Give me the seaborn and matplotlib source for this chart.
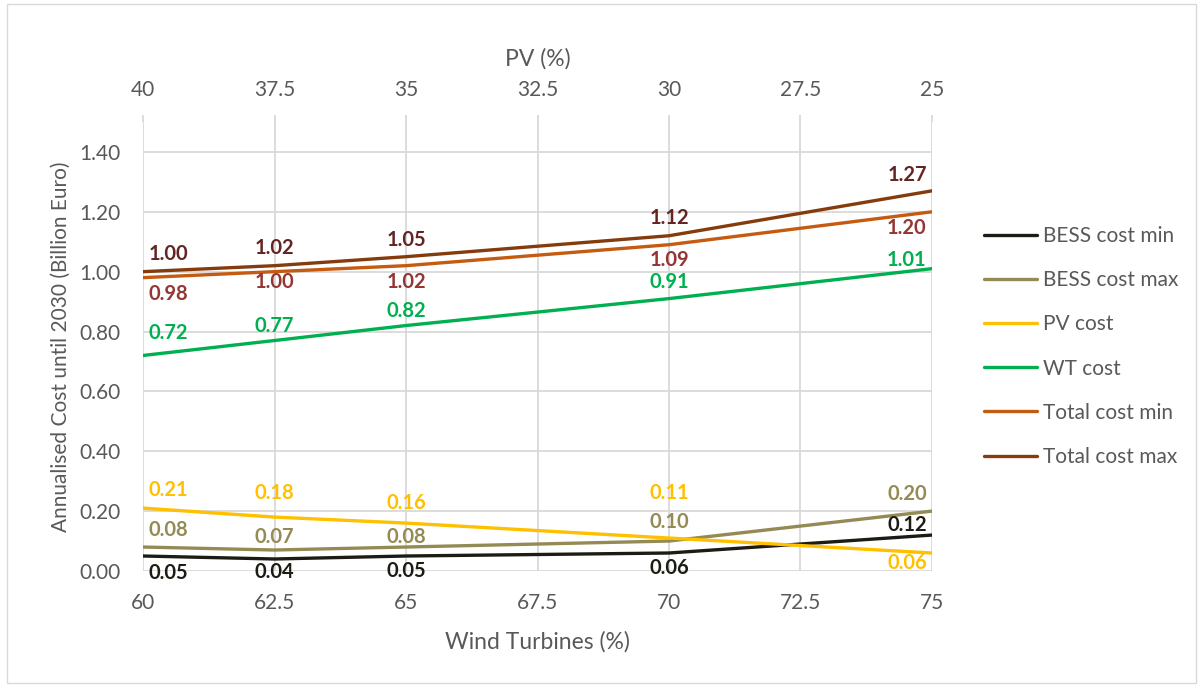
import matplotlib
matplotlib.use("Agg")
import matplotlib.pyplot as plt
import matplotlib.patches as patches
import seaborn as sns
import pandas as pd

# Scenario shares (PV share is 100 - wind share)
wind_share = [60, 62.5, 65, 70, 75]
wind_ticks = [60, 62.5, 65, 67.5, 70, 72.5, 75]
pv_ticks = [40, 37.5, 35, 32.5, 30, 27.5, 25]

bess_min = [0.05, 0.04, 0.05, 0.06, 0.12]
bess_max = [0.08, 0.07, 0.08, 0.10, 0.20]
pv_cost = [0.21, 0.18, 0.16, 0.11, 0.06]
wt_cost = [0.72, 0.77, 0.82, 0.91, 1.01]
total_min = [0.98, 1.00, 1.02, 1.09, 1.20]
total_max = [1.00, 1.02, 1.05, 1.12, 1.27]

series_names = ["BESS cost min", "BESS cost max", "PV cost", "WT cost",
                "Total cost min", "Total cost max"]
series_values = [bess_min, bess_max, pv_cost, wt_cost, total_min, total_max]
line_colors = ["#1c1c14", "#948a54", "#ffc000", "#00b050", "#c55a11", "#843c0c"]
label_colors = ["#1c1c14", "#948a54", "#ffc000", "#00b050", "#943634", "#632523"]

# vertical offset of each value label from its point, in pixels (up is positive)
label_dy = [
    [-17, -13, -15, -15, 10],
    [17, 13, 10, 19, 17],
    [18, 24, 20, 45, -10],
    [22, 15, 15, 17, 9],
    [-16, -10, -16, -15, -16],
    [18, 18, 17, 18, 16],
]
PX = 72 / 100  # pixels -> points

rows = []
for name, vals in zip(series_names, series_values):
    for x, v in zip(wind_share, vals):
        rows.append({"Wind": x, "Cost": v, "Series": name})
df = pd.DataFrame(rows)

sns.set_theme(style="white")
plt.rcParams["font.family"] = ["Lato", "DejaVu Sans"]

fig = plt.figure(figsize=(12.03, 6.87), dpi=100)
ax = fig.add_axes([0.1189, 0.1689, 0.6558, 0.6535])

sns.lineplot(data=df, x="Wind", y="Cost", hue="Series", hue_order=series_names,
             palette=dict(zip(series_names, line_colors)), linewidth=2.4,
             ax=ax, legend=True)

ax.set_xlim(60, 75)
ax.set_ylim(0, 1.5)
ax.set_xticks(wind_ticks)
ax.set_xticklabels([f"{t:g}" for t in wind_ticks])
ax.set_yticks([0, 0.2, 0.4, 0.6, 0.8, 1.0, 1.2, 1.4])
ax.set_yticklabels([f"{t:.2f}" for t in ax.get_yticks()])
ax.grid(True, color="#d9d9d9", linewidth=1.3)
ax.set_axisbelow(True)
for s in ax.spines.values():
    s.set_visible(False)
ax.tick_params(axis="both", colors="#595959", labelsize=15, length=0, pad=16)
ax.set_xlabel("Wind Turbines (%)", fontsize=16.5, color="#595959", labelpad=13)
ax.set_ylabel("Annualised Cost until 2030 (Billion Euro)", fontsize=15,
              color="#595959", labelpad=6)

top = ax.secondary_xaxis("top", functions=(lambda x: 100 - x, lambda x: 100 - x))
top.set_xticks(pv_ticks)
top.set_xticklabels([f"{t:g}" for t in pv_ticks])
top.tick_params(colors="#595959", labelsize=15, length=5, width=1.3,
                color="#d9d9d9", pad=11)
top.spines["top"].set_visible(False)
top.set_xlabel("PV (%)", fontsize=16.5, color="#595959", labelpad=10)

# Value labels, kept inside the plot area at both ends
for vals, col, dys in zip(series_values, label_colors, label_dy):
    for i, (x, v) in enumerate(zip(wind_share, vals)):
        dx = 25 if i == 0 else (-25 if i == len(vals) - 1 else 0)
        ax.annotate(f"{v:.2f}", (x, v), xytext=(dx * PX, dys[i] * PX),
                    textcoords="offset points", ha="center", va="center",
                    fontsize=14.5, fontweight="bold", color=col,
                    annotation_clip=False)

handles, labels = ax.get_legend_handles_labels()
ax.get_legend().remove()
fig.legend(handles, labels, loc="center left", bbox_to_anchor=(0.802, 0.4956),
           frameon=False, fontsize=15, handlelength=2.55, handletextpad=0.3,
           labelspacing=1.16, labelcolor="#595959")

fig.patches.append(patches.Rectangle((0.006, 0.006), 0.988, 0.988,
                                     transform=fig.transFigure, fill=False,
                                     edgecolor="#d9d9d9", linewidth=1.0))

fig.savefig("out.png", dpi=100, facecolor="white")
